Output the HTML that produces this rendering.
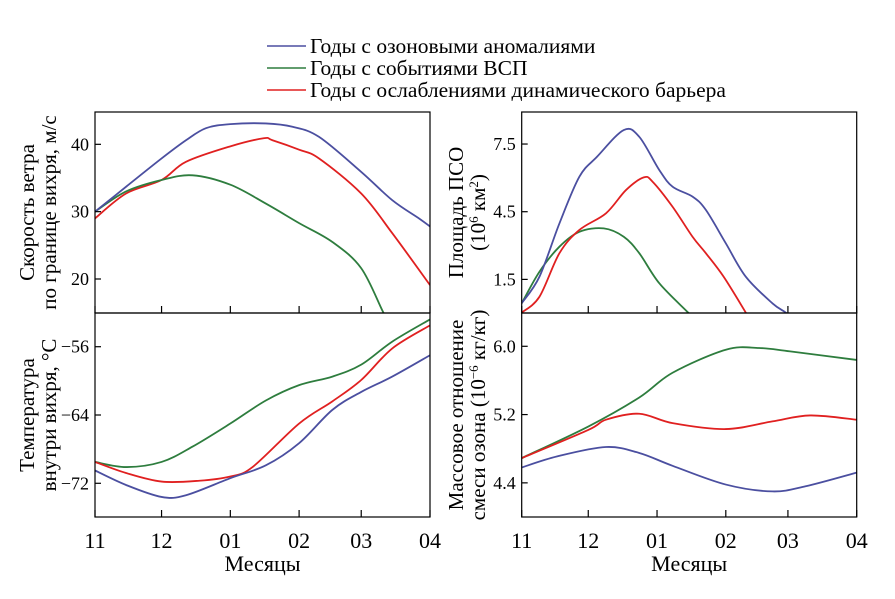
<!DOCTYPE html>
<html><head><meta charset="utf-8">
<style>
body{margin:0;background:#fff;}
svg, svg text{font-family:"Liberation Serif","DejaVu Serif",serif;}
</style></head>
<body>
<svg id="chart" width="895" height="594" viewBox="0 0 895 594" xmlns="http://www.w3.org/2000/svg" font-family="Liberation Serif, DejaVu Serif, serif">
<g>
<line x1="267" y1="46" x2="306" y2="46" stroke="#4b4fa0" stroke-width="1.6"/>
<text x="310" y="53" font-size="21.5">Годы с озоновыми аномалиями</text>
<line x1="267" y1="68" x2="306" y2="68" stroke="#2e7d3e" stroke-width="1.6"/>
<text x="310" y="75" font-size="21.5">Годы с событиями ВСП</text>
<line x1="267" y1="90" x2="306" y2="90" stroke="#e02020" stroke-width="1.6"/>
<text x="310" y="97" font-size="21.5">Годы с ослаблениями динамического барьера</text>
</g>
</svg>
<script>
const monthLabels=["11","12","01","02","03","04"];
const monthDays=[0,30,61,92,120,151];
// top-left: wind speed
const windDays_b=[0,14,30,41,50,61,77,89,101,120,134,146,151];
const windBlue=[30,33.7,37.9,40.6,42.4,43.0,43.1,42.6,41.1,35.9,31.7,29.0,27.8];
const windDays_r=[0,14,30,41,61,76,80,92,101,120,134,151];
const windRed=[29.0,32.7,34.7,37.4,39.7,40.9,40.6,39.2,37.9,32.7,26.8,19.1];
const windDays_g=[0,14,30,44,61,77,92,107,120,130,133];
const windGreen=[30,33,34.7,35.4,34.0,31.2,28.3,25.5,21.6,15.0,13.5];
const windTicks=[20,30,40];
// bottom-left: temperature
const tempDays_g=[0,14,30,44,61,77,92,107,120,134,151];
const tempGreen=[-69.5,-70.1,-69.5,-67.7,-65.0,-62.3,-60.5,-59.5,-58.1,-55.4,-52.8];
const tempDays_r=[0,14,30,47,61,71,92,107,120,134,151];
const tempRed=[-69.5,-70.8,-71.8,-71.7,-71.2,-70.1,-65.0,-62.4,-59.9,-56.2,-53.5];
const tempDays_b=[0,14,30,41,61,77,92,107,120,134,151];
const tempBlue=[-70.5,-72.2,-73.6,-73.4,-71.4,-69.9,-67.3,-63.4,-61.3,-59.5,-57.0];
const tempTicks=[-72,-64,-56];
// top-right: PSC area
const pscDays_b=[0,8,17,26,34,46,53,62,68,77,83,92,101,113,119,121];
const pscBlue=[0.44,1.62,3.98,6.05,6.94,8.12,7.82,6.35,5.61,5.17,4.58,3.10,1.62,0.44,0.03,-0.2];
const pscDays_r=[0,8,17,26,38,47,55,59,68,77,83,91,101,103];
const pscRed=[0.03,0.73,2.66,3.69,4.43,5.46,6.02,5.83,4.72,3.39,2.66,1.62,0.03,-0.3];
const pscDays_g=[0,8,17,26,37,46,53,62,75,77];
const pscGreen=[0.44,1.84,2.95,3.61,3.76,3.39,2.66,1.33,0.03,-0.2];
const pscTicks=[1.5,4.5,7.5];
// bottom-right: ozone mixing ratio
const ozDays_g=[0,30,53,68,92,107,121,151];
const ozGreen=[4.69,5.06,5.40,5.69,5.96,5.98,5.94,5.84];
const ozDays_r=[0,30,38,53,68,92,113,130,151];
const ozRed=[4.69,5.02,5.14,5.21,5.10,5.03,5.12,5.19,5.14];
const ozDays_b=[0,16,38,53,68,92,113,128,151];
const ozBlue=[4.58,4.71,4.82,4.75,4.60,4.38,4.30,4.36,4.52];
const ozTicks=[4.4,5.2,6.0];

const NS="http://www.w3.org/2000/svg";
const svg=document.getElementById('chart');
const C={b:"#4b4fa0",g:"#2e7d3e",r:"#e02020"};
function mk(tag,attrs,parent){const e=document.createElementNS(NS,tag);for(const k in attrs)e.setAttribute(k,attrs[k]);(parent||svg).appendChild(e);return e;}
function smooth(pts){let d="M"+pts[0][0].toFixed(2)+","+pts[0][1].toFixed(2);
 for(let i=0;i<pts.length-1;i++){const p0=pts[Math.max(0,i-1)],p1=pts[i],p2=pts[i+1],p3=pts[Math.min(pts.length-1,i+2)];
 const c1=[p1[0]+(p2[0]-p0[0])/6,p1[1]+(p2[1]-p0[1])/6],c2=[p2[0]-(p3[0]-p1[0])/6,p2[1]-(p3[1]-p1[1])/6];
 d+="C"+c1[0].toFixed(2)+","+c1[1].toFixed(2)+" "+c2[0].toFixed(2)+","+c2[1].toFixed(2)+" "+p2[0].toFixed(2)+","+p2[1].toFixed(2);}
 return d;}
let clipN=0;
function panel(name,x0,x1,y0,y1,vmin,vmax,ticks,fmt,series,showX,titles,tx){
 const xs=d=>x0+(x1-x0)*d/151, ys=v=>y1-(y1-y0)*(v-vmin)/(vmax-vmin);
 const g=mk('g',{});
 
 
 const id="clip"+(clipN++);
 const cp=mk('clipPath',{id:id},g);mk('rect',{x:x0,y:y0,width:x1-x0,height:y1-y0},cp);
 series.forEach(s=>{
  const p=mk('path',{d:smooth(s.days.map((d,i)=>[xs(d),ys(s.vals[i])])),fill:"none",stroke:C[s.c],"stroke-width":1.8,"clip-path":"url(#"+id+")"},g);
  
  
 });
 const fr=mk('rect',{x:x0,y:y0,width:x1-x0,height:y1-y0,fill:"none",stroke:"#000","stroke-width":1.2},g);
 
 
 monthDays.forEach((d,i)=>{
  mk('line',{x1:xs(d),x2:xs(d),y1:y1,y2:y1-7,stroke:"#000","stroke-width":1.2},g);
  if(showX){const t=mk('text',{x:xs(d),y:y1+31,"font-size":22,"text-anchor":"middle"},g);t.textContent=monthLabels[i];
   
   }
 });
 ticks.forEach(v=>{
  mk('line',{x1:x0,x2:x0+6,y1:ys(v),y2:ys(v),stroke:"#000","stroke-width":1.2},g);
  const t=mk('text',{x:x0-6,y:ys(v)+6,"font-size":18,"text-anchor":"end"},g);t.textContent=fmt(v);
  
  
 });
 const cy=(y0+y1)/2;
 titles.forEach((tt,i)=>{
  const t=mk('text',{x:0,y:0,"font-size":21,"text-anchor":"middle",transform:"translate("+(tx+i*22)+","+cy+") rotate(-90)"},g);
  t.innerHTML=tt;
  
  
 });
 if(showX){const t=mk('text',{x:(x0+x1)/2,y:y1+54,"font-size":22,"text-anchor":"middle"},g);t.textContent="Месяцы";
  
  }
}
const minus=v=>String(v).replace('-','−');
panel('wind-speed-panel',95,430,112,313,14.95,44.8,windTicks,v=>String(v),
 [{n:'barrier',c:'r',days:windDays_r,vals:windRed},{n:'ssw',c:'g',days:windDays_g,vals:windGreen},{n:'ozone',c:'b',days:windDays_b,vals:windBlue}],
 false,["Скорость ветра","по границе вихря, м/с"],34);
panel('temperature-panel',95,430,313,517,-75.95,-52.05,tempTicks,minus,
 [{n:'ssw',c:'g',days:tempDays_g,vals:tempGreen},{n:'barrier',c:'r',days:tempDays_r,vals:tempRed},{n:'ozone',c:'b',days:tempDays_b,vals:tempBlue}],
 true,["Температура","внутри вихря, °C"],34);
panel('psc-area-panel',521.7,856.7,112,313,0.01,8.92,pscTicks,v=>v.toFixed(1),
 [{n:'ssw',c:'g',days:pscDays_g,vals:pscGreen},{n:'barrier',c:'r',days:pscDays_r,vals:pscRed},{n:'ozone',c:'b',days:pscDays_b,vals:pscBlue}],
 false,["Площадь ПСО",'(10<tspan baseline-shift="super" font-size="13">6</tspan> км<tspan baseline-shift="super" font-size="13">2</tspan>)'],463);
panel('ozone-ratio-panel',521.7,856.7,313,517,4.0,6.39,ozTicks,v=>v.toFixed(1),
 [{n:'ssw',c:'g',days:ozDays_g,vals:ozGreen},{n:'barrier',c:'r',days:ozDays_r,vals:ozRed},{n:'ozone',c:'b',days:ozDays_b,vals:ozBlue}],
 true,["Массовое отношение",'смеси озона (10<tspan baseline-shift="super" font-size="13">−6</tspan> кг/кг)'],463);
</script>
</body></html>
